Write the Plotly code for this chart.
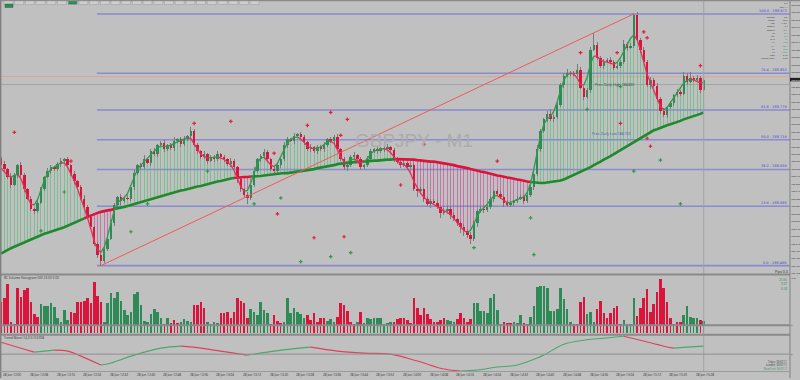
import plotly.graph_objects as go

# ---------------- DATA ----------------
OPEN0 = 188.680
CLOSE = [
188.670,188.660,188.644,188.628,188.648,188.668,188.648,188.620,188.600,188.580,
188.576,188.592,188.620,188.644,188.656,188.664,188.660,188.670,188.676,188.680,
188.668,188.650,188.636,188.624,188.600,188.584,188.564,188.544,188.510,188.488,
188.476,188.500,188.520,188.552,188.588,188.604,188.596,188.602,188.600,188.624,
188.652,188.668,188.664,188.680,188.672,188.696,188.690,188.708,188.712,188.700,
188.708,188.702,188.716,188.720,188.710,188.720,188.726,188.736,188.708,188.696,
188.684,188.690,188.676,188.684,188.680,188.690,188.684,188.680,188.670,188.676,
188.664,188.640,188.620,188.608,188.602,188.628,188.656,188.680,188.686,188.694,
188.680,188.660,188.656,188.668,188.680,188.708,188.720,188.716,188.726,188.730,
188.724,188.714,188.700,188.704,188.696,188.704,188.700,188.708,188.720,188.716,
188.724,188.700,188.680,188.664,188.668,188.684,188.688,188.680,188.664,188.668,
188.680,188.696,188.700,188.696,188.702,188.700,188.704,188.698,188.680,188.674,
188.668,188.672,188.664,188.668,188.620,188.616,188.620,188.600,188.590,188.596,
188.592,188.584,188.572,188.576,188.580,188.568,188.560,188.552,188.544,188.536,
188.528,188.520,188.552,188.576,188.580,188.578,188.584,188.600,188.616,188.610,
188.604,188.592,188.588,188.592,188.596,188.600,188.604,188.596,188.608,188.624,
188.650,188.700,188.736,188.760,188.770,188.760,188.764,188.788,188.830,188.848,
188.854,188.852,188.852,188.860,188.824,188.804,188.820,188.900,188.910,188.884,
188.868,188.876,188.880,188.876,188.864,188.868,188.876,188.912,188.904,188.908,
188.970,188.920,188.900,188.876,188.830,188.840,188.828,188.800,188.776,188.768,
188.784,188.792,188.808,188.816,188.812,188.848,188.836,188.844,188.840,188.844,
188.820,188.840]

# wick extensions in thousandths of a yen
UP_WICK = [
4,6,3,8,5,2,6,4,3,5,2,7,4,3,6,5,2,4,6,3,
5,3,6,2,4,7,3,5,2,4,6,3,5,8,4,2,6,3,5,4,
6,3,4,8,2,5,7,3,4,6,2,5,8,3,4,6,3,8,5,4,
3,6,2,5,4,7,3,5,2,6,4,3,5,2,6,4,8,3,5,6,
4,2,6,3,5,7,4,3,6,2,5,4,3,6,2,5,4,7,3,5,
4,6,2,5,3,4,7,3,5,2,6,4,3,5,2,4,6,3,5,4,
3,6,2,5,4,3,5,2,6,4,3,5,2,6,4,3,5,2,4,6,
3,5,4,2,6,4,3,5,2,4,6,3,5,4,2,6,4,3,5,6,
4,8,5,3,6,10,4,7,3,6,8,4,5,12,6,4,3,5,24,6,
4,6,3,5,4,6,3,8,4,5,4,6,3,5,4,6,3,5,4,6,
3,5,4,6,3,8,5,12,4,6,3,4]
DN_WICK = [
3,5,4,6,2,5,4,7,3,5,6,4,3,5,2,6,4,3,5,4,
6,3,5,4,2,6,3,5,4,6,10,4,5,3,6,4,8,5,3,4,
5,3,6,4,2,5,3,6,4,5,3,4,6,3,5,4,3,5,4,6,
4,3,6,2,5,4,3,6,4,5,3,8,6,4,12,5,3,4,6,3,
5,4,6,3,5,4,6,2,5,4,3,6,4,5,3,6,4,5,3,4,
6,4,3,5,8,4,6,3,5,4,3,5,4,6,3,5,4,3,6,4,
5,3,6,4,5,12,4,6,5,8,4,5,10,4,6,8,5,6,12,10,
6,10,5,8,4,6,5,4,6,3,5,8,4,5,6,4,3,6,5,4,
6,4,5,3,6,4,5,3,4,6,3,5,4,6,3,5,4,6,3,5,
4,6,3,5,4,3,5,4,6,3,5,4,6,3,5,8,4,5,6,4,
5,4,6,3,5,4,6,3,5,4,6,5]

SLOW_MA = [
188.490,188.494,188.498,188.501,188.504,188.507,188.510,188.513,188.516,188.519,
188.522,188.525,188.528,188.530,188.532,188.534,188.536,188.538,188.540,188.543,
188.546,188.549,188.552,188.555,188.558,188.561,188.564,188.567,188.570,188.572,
188.574,188.576,188.577,188.578,188.580,188.581,188.582,188.584,188.586,188.588,
188.590,188.592,188.594,188.596,188.598,188.600,188.602,188.604,188.606,188.608,
188.610,188.612,188.613,188.615,188.617,188.618,188.620,188.622,188.623,188.625,
188.626,188.628,188.630,188.631,188.633,188.635,188.636,188.638,188.639,188.641,
188.642,188.643,188.643,188.644,188.644,188.645,188.645,188.646,188.646,188.647,
188.648,188.649,188.650,188.650,188.651,188.652,188.652,188.653,188.654,188.655,
188.656,188.656,188.658,188.659,188.660,188.662,188.663,188.664,188.666,188.667,
188.668,188.670,188.671,188.672,188.672,188.673,188.674,188.674,188.675,188.675,
188.676,188.676,188.677,188.677,188.678,188.678,188.679,188.679,188.680,188.680,
188.680,188.680,188.680,188.679,188.679,188.678,188.677,188.677,188.676,188.675,
188.675,188.674,188.673,188.672,188.670,188.669,188.668,188.666,188.665,188.663,
188.662,188.660,188.658,188.657,188.655,188.654,188.652,188.650,188.649,188.647,
188.646,188.644,188.643,188.642,188.640,188.639,188.638,188.636,188.635,188.634,
188.633,188.632,188.632,188.632,188.633,188.633,188.634,188.635,188.637,188.639,
188.642,188.645,188.648,188.651,188.654,188.658,188.661,188.664,188.668,188.671,
188.675,188.679,188.682,188.686,188.690,188.694,188.698,188.702,188.706,188.710,
188.714,188.718,188.722,188.726,188.730,188.734,188.738,188.740,188.743,188.745,
188.748,188.750,188.752,188.755,188.757,188.760,188.762,188.764,188.767,188.769,
188.771,188.774]

# signed histogram (positive = bullish / green, negative = bearish / red)
HIST = [
-23,-27,-42,-3,-1,-37,-28,-35,-37,-23,-11,-8,
21,19,19,22,18,7,3,15,5,
-13,-12,-23,-23,-24,-27,-22,-44,-29,-23,
3,22,32,27,33,24,15,10,13,31,33,20,4,3,11,16,13,7,
-1,7,-2,-5,-2,3,6,4,3,
-20,-20,-23,-17,
3,1,3,2,
-12,-12,-13,-7,-13,-27,-24,-22,-7,
16,13,10,23,15,12,
-1,-10,-4,-2,
3,27,12,17,13,11,7,
-10,-5,-12,-3,-7,-7,
4,6,3,
-8,-22,-20,-14,-3,-1,
3,-13,2,7,6,7,7,7,1,2,3,
-3,-6,-7,-7,-5,-2,-27,-17,-10,-17,-11,-6,-3,-3,-5,-7,
5,4,3,
-6,-12,-7,-3,-6,
22,22,14,14,12,27,31,15,1,
-3,-2,-2,
3,2,10,
-2,-1,
8,19,38,39,39,37,14,14,16,37,26,16,3,
-1,-1,-23,-28,
11,13,3,
-16,-24,-12,-7,-12,-17,-19,-1,
5,1,1,27,
-9,-17,-27,-36,-13,-21,-33,-47,-37,-23,-7,
1,-3,-3,10,19,8,7,7,-5,4]

OSC_IDX = [0,6,10,16,20,24,30,32,40,48,54,60,64,70,74,80,87,93,101,109,
           117,125,133,138,143,149,155,161,163,169,175,181,187,192,199,202,206,211]
OSC_VAL = [60,30,10,20,15,-10,-55,-50,-5,30,40,30,20,5,-5,10,25,35,15,5,
           0,-35,-75,-85,-80,-65,-55,-20,-5,50,70,80,90,70,40,30,35,40]

RED_SIG_IDX = [4,21,58,69,92,99,104,82,102,127,149,120,83,94,103,194,195,193,194,174,185,186,210]
RED_SIG_PRICE = [188.734,188.676,188.752,188.756,188.748,188.774,188.760,188.692,188.728,188.710,
                 188.676,188.628,188.570,188.522,188.524,188.722,188.706,188.936,188.924,188.894,
                 188.894,188.752,188.868]
GREEN_SIG_IDX = [19,12,39,44,62,76,84,90,99,105,142,159,160,190,198,204,176,186]
GREEN_SIG_PRICE = [188.614,188.536,188.534,188.590,188.656,188.590,188.602,188.474,188.484,188.492,
                   188.502,188.562,188.488,188.656,188.678,188.590,188.780,188.826]

FIB_LOW, FIB_LOW_IDX = 188.466, 30
FIB_HIGH, FIB_HIGH_IDX = 188.972, 190
FIB_RATIOS = [0.0, 23.6, 38.2, 50.0, 61.8, 76.4, 100.0]
ASK_PRICE = 188.846
LINE_PRICE = 188.830
PREV_HIGH_TEXT = "Prev. Daily High 188.830"
PREV_LOW_TEXT = "Prev. Daily Low 188.720"

TIME_LABELS = ["28 Jun 12:00", "28 Jun 12:08", "28 Jun 12:16", "28 Jun 12:24", "28 Jun 12:32",
               "28 Jun 12:40", "28 Jun 12:48", "28 Jun 12:56", "28 Jun 13:04", "28 Jun 13:12",
               "28 Jun 13:20", "28 Jun 13:28", "28 Jun 13:36", "28 Jun 13:44", "28 Jun 13:52",
               "28 Jun 14:00", "28 Jun 14:08", "28 Jun 14:16", "28 Jun 14:24", "28 Jun 14:32",
               "28 Jun 14:40", "28 Jun 14:48", "28 Jun 14:56", "28 Jun 15:04", "28 Jun 15:12",
               "28 Jun 15:20", "28 Jun 15:28"]

INFO_TOP = ["2.3", "Spr 1.1"]
INFO_ROWS = [("Spread", "2.8"), ("Range", "50.6"), ("ADR", "112.5"), ("Swap L", "-3.1"),
             ("Swap S", "-9.4"), ("M1", "0.9"), ("M5", "3.2"), ("M15", "7.1"), ("H1", "15.8"),
             ("H4", "28.4"), ("D1", "50.6"), ("W1", "140.2"), ("Lots", "0.10"),
             ("Candle Time", "0:52")]

N = len(CLOSE)
GREEN = "#2e8b57"
RED = "#dc143c"
BG = "#c0c0c0"

# ---------------- derived ----------------
X = list(range(N))
OPEN = [OPEN0] + CLOSE[:-1]
HIGH = [max(o, c) + u / 1000 for o, c, u in zip(OPEN, CLOSE, UP_WICK)]
LOW = [min(o, c) - d / 1000 for o, c, d in zip(OPEN, CLOSE, DN_WICK)]

W = [1, 2, 3, 2, 1]
FAST = []
for i in range(N):
    s = ws = 0
    for k, w in zip(range(-2, 3), W):
        j = i + k
        if 0 <= j < N:
            s += w * CLOSE[j]
            ws += w
    FAST.append(s / ws)


def runs(xs, ys, flags):
    segs, cur = [], None
    for i in range(1, len(xs)):
        f = flags[i]
        if cur is None or cur[0] != f:
            cur = [f, [xs[i - 1]], [ys[i - 1]]]
            segs.append(cur)
        cur[1].append(xs[i])
        cur[2].append(ys[i])
    return segs


fig = go.Figure()

# fill between fast and slow
for col, cond in (("rgba(70,190,110,0.55)", True), ("rgba(200,40,140,0.5)", False)):
    xs = [i for i in X if (FAST[i] >= SLOW_MA[i]) == cond]
    fig.add_trace(go.Bar(x=xs, base=[SLOW_MA[i] for i in xs],
                         y=[FAST[i] - SLOW_MA[i] for i in xs], width=0.3,
                         marker=dict(color=col, line=dict(width=0)),
                         xaxis="x", yaxis="y", hoverinfo="skip", showlegend=False))

# wicks
fig.add_trace(go.Bar(x=X, base=LOW, y=[h - l for h, l in zip(HIGH, LOW)], width=0.3,
                     marker=dict(color="#7a7a7a", line=dict(width=0)),
                     xaxis="x", yaxis="y", hoverinfo="skip", showlegend=False))
# bodies
for col, bull in ((GREEN, True), (RED, False)):
    xs = [i for i in X if (CLOSE[i] >= OPEN[i]) == bull]
    fig.add_trace(go.Bar(x=xs, base=[min(OPEN[i], CLOSE[i]) for i in xs],
                         y=[max(abs(CLOSE[i] - OPEN[i]), 0.0012) for i in xs], width=0.74,
                         marker=dict(color=col, line=dict(width=0)),
                         xaxis="x", yaxis="y", hoverinfo="skip", showlegend=False))

# slow MA colored by fast vs slow
for f, xs, ys in runs(X, SLOW_MA, [FAST[i] >= SLOW_MA[i] for i in X]):
    fig.add_trace(go.Scatter(x=xs, y=ys, mode="lines",
                             line=dict(color="#1f8a2c" if f else RED, width=2.6),
                             xaxis="x", yaxis="y", hoverinfo="skip", showlegend=False))
# fast MA colored by slope
for f, xs, ys in runs(X, FAST, [i > 0 and FAST[i] >= FAST[i - 1] for i in X]):
    fig.add_trace(go.Scatter(x=xs, y=ys, mode="lines",
                             line=dict(color="#2e9a4a" if f else "#e0305a", width=1.3),
                             xaxis="x", yaxis="y", hoverinfo="skip", showlegend=False))

# trend line
fig.add_trace(go.Scatter(x=[FIB_LOW_IDX, FIB_HIGH_IDX], y=[FIB_LOW, FIB_HIGH], mode="lines",
                         line=dict(color="#f05a5a", width=1), xaxis="x", yaxis="y",
                         hoverinfo="skip", showlegend=False))

# signals
fig.add_trace(go.Scatter(x=RED_SIG_IDX, y=RED_SIG_PRICE, mode="markers",
                         marker=dict(symbol="cross", size=3, color="#e0203c", line=dict(width=0)),
                         xaxis="x", yaxis="y", hoverinfo="skip", showlegend=False))
fig.add_trace(go.Scatter(x=GREEN_SIG_IDX, y=GREEN_SIG_PRICE, mode="markers",
                         marker=dict(symbol="cross", size=3, color="#2e9a4a", line=dict(width=0)),
                         xaxis="x", yaxis="y", hoverinfo="skip", showlegend=False))

# histogram panel
for col, pos in ((GREEN, True), (RED, False)):
    xs = [i for i in X if (HIST[i] > 0) == pos]
    fig.add_trace(go.Bar(x=xs, y=[abs(HIST[i]) for i in xs], width=0.78,
                         marker=dict(color=col, line=dict(width=0)),
                         xaxis="x2", yaxis="y2", hoverinfo="skip", showlegend=False))
for col, pos in ((GREEN, True), (RED, False)):
    xs = [i for i in X if (HIST[i] > 0) == pos]
    fig.add_trace(go.Bar(x=xs, base=[-0.9] * len(xs), y=[-7.3] * len(xs), width=0.4,
                         marker=dict(color=col, line=dict(width=0)),
                         xaxis="x2", yaxis="y2", hoverinfo="skip", showlegend=False))

# oscillator
OSC_FLAGS = [i > 0 and OSC_VAL[i] >= OSC_VAL[i - 1] for i in range(len(OSC_VAL))]
for f, xs, ys in runs(OSC_IDX, OSC_VAL, OSC_FLAGS):
    fig.add_trace(go.Scatter(x=xs, y=ys, mode="lines", line_shape="spline",
                             line=dict(color="#4aa86a" if f else "#e04060", width=1.1),
                             xaxis="x3", yaxis="y3", hoverinfo="skip", showlegend=False))

# ---------------- layout ----------------
W_PX, H_PX = 800, 380
XR = 790 / W_PX


def py(p):
    return 1 - p / H_PX


def pxx(p):
    return p / W_PX


XRANGE = [-0.3, 236.9]
PR = [188.450, 189.000]

shapes = []
ann = []

# fib levels
for r in FIB_RATIOS:
    lvl = FIB_LOW + (FIB_HIGH - FIB_LOW) * r / 100
    shapes.append(dict(type="line", xref="x", yref="y", x0=FIB_LOW_IDX - 1.2, x1=XRANGE[1],
                       y0=lvl, y1=lvl, line=dict(color="#8a8ad2", width=1.6), layer="below"))
    ann.append(dict(xref="paper", yref="y", x=XR - 0.002, y=lvl, xanchor="right", yanchor="bottom",
                    text=f"{r:.1f} - {lvl:.3f}", showarrow=False, yshift=0, borderpad=0,
                    font=dict(size=3.5, color="#4a4ac8", family="DejaVu Sans")))

# ask / price lines
shapes.append(dict(type="line", xref="paper", yref="y", x0=0, x1=XR, y0=ASK_PRICE, y1=ASK_PRICE,
                   line=dict(color="#d8a890", width=1), layer="below"))
shapes.append(dict(type="line", xref="paper", yref="y", x0=0, x1=XR, y0=LINE_PRICE, y1=LINE_PRICE,
                   line=dict(color="#a4a4a4", width=1), layer="below"))
# vertical shift separator
shapes.append(dict(type="line", xref="x", yref="paper", x0=N - 1, x1=N - 1, y0=py(373), y1=1,
                   line=dict(color="#a2a2a2", width=1)))
# panel separators / borders
for yy, wd in ((276, 2), (336.5, 2), (327, 2)):
    shapes.append(dict(type="line", xref="paper", yref="paper", x0=0, x1=XR, y0=py(yy), y1=py(yy),
                       line=dict(color="#8a8a8a", width=wd)))
shapes.append(dict(type="line", xref="paper", yref="paper", x0=0, x1=XR, y0=py(356), y1=py(356),
                   line=dict(color="#8e8e8e", width=1)))
shapes.append(dict(type="line", xref="paper", yref="paper", x0=XR, x1=XR, y0=0, y1=1,
                   line=dict(color="#808080", width=1)))
shapes.append(dict(type="line", xref="paper", yref="paper", x0=0.0008, x1=0.0008, y0=0, y1=1,
                   line=dict(color="#808080", width=1.5)))
shapes.append(dict(type="line", xref="paper", yref="paper", x0=0, x1=1, y0=py(0.5), y1=py(0.5),
                   line=dict(color="#8a8a8a", width=1.5)))
shapes.append(dict(type="line", xref="paper", yref="paper", x0=0, x1=XR, y0=py(373.5), y1=py(373.5),
                   line=dict(color="#9a9a9a", width=1)))

# toolbar tabs
tab_x = [3 + 10.7 * k for k in range(24)]
for k, tx in enumerate(tab_x):
    green = k == 6
    shapes.append(dict(type="rect", xref="paper", yref="paper", x0=pxx(tx + 1), x1=pxx(tx + 10),
                       y0=py(4.5), y1=py(1), fillcolor="#2e8b57" if green else "#cfcfcf",
                       line=dict(color="#9a9a9a", width=0.5)))
shapes.append(dict(type="rect", xref="paper", yref="paper", x0=pxx(5), x1=pxx(13), y0=py(7.5), y1=py(4),
                   fillcolor="#2e8b57", line=dict(color="#1f6b3f", width=0.5)))

# price tag
shapes.append(dict(type="rect", xref="paper", yref="y", x0=XR, x1=1,
                   y0=CLOSE[-1] - 0.0035, y1=CLOSE[-1] + 0.0035, fillcolor="#202020", line=dict(width=0)))
ann.append(dict(xref="paper", yref="y", x=XR + 0.0005, y=CLOSE[-1], xanchor="left", yanchor="middle",
                text=f"{CLOSE[-1]:.3f}", showarrow=False, borderpad=0,
                font=dict(size=2.4, color="white")))

# watermark
ann.append(dict(xref="x", yref="y", x=124, y=188.718, text="GBPJPY - M1", showarrow=False,
                font=dict(size=19, color="#acacac", family="Liberation Sans")))

ann.append(dict(xref="x", yref="y", x=178, y=LINE_PRICE, xanchor="left", yanchor="middle",
                text=PREV_HIGH_TEXT, showarrow=False, borderpad=0, font=dict(size=3.5, color="#404040")))
ann.append(dict(xref="x", yref="y", x=177, y=188.732, xanchor="left", yanchor="middle",
                text=PREV_LOW_TEXT, showarrow=False, borderpad=0, font=dict(size=3.5, color="#4a4ac8")))

# info block
for k, t in enumerate(INFO_TOP):
    ann.append(dict(xref="paper", yref="paper", x=pxx(789), y=py(3.5 + 3.2 * k), xanchor="right",
                    yanchor="middle", text=t, showarrow=False, borderpad=0,
                    font=dict(size=2.4, color="#303030")))
for k, (lab, val) in enumerate(INFO_ROWS):
    yy = 17.5 + k * 3.2
    ann.append(dict(xref="paper", yref="paper", x=pxx(776), y=py(yy), xanchor="right", yanchor="middle",
                    text=lab, showarrow=False, borderpad=0, font=dict(size=2.3, color="#303030")))
    ann.append(dict(xref="paper", yref="paper", x=pxx(789), y=py(yy), xanchor="right", yanchor="middle",
                    text=val, showarrow=False, borderpad=0,
                    font=dict(size=2.3, color="#2e8b57" if 5 <= k <= 11 else "#303030")))

# panel labels
ann.append(dict(xref="paper", yref="paper", x=pxx(3), y=py(279), xanchor="left", yanchor="middle",
                text="RC Volume Histogram (50) 23.00 0.00", showarrow=False, borderpad=0,
                font=dict(size=3.2, color="#303030")))
ann.append(dict(xref="paper", yref="paper", x=pxx(3), y=py(339.5), xanchor="left", yanchor="middle",
                text="Trend Wave (14,0.5) 0.0358", showarrow=False, borderpad=0,
                font=dict(size=3.2, color="#303030")))
ann.append(dict(xref="paper", yref="paper", x=pxx(789), y=py(273), xanchor="right", yanchor="middle",
                text="Pips 0.3", showarrow=False, borderpad=0, font=dict(size=3.5, color="#202020")))
for k, t in enumerate(["23.50", "9.97", "6.58"]):
    ann.append(dict(xref="paper", yref="paper", x=pxx(788), y=py(281 + 5 * k), xanchor="right",
                    yanchor="middle", text=t, showarrow=False, borderpad=0,
                    font=dict(size=3, color="#2e8b57")))
for k, t in enumerate(["Tokyo  00:07:11", "London  00:07:11", "New York  00:07:11"]):
    ann.append(dict(xref="paper", yref="paper", x=pxx(788), y=py(364 + 3.4 * k), xanchor="right",
                    yanchor="middle", text=t, showarrow=False, borderpad=0,
                    font=dict(size=2.6, color="#2e8b57" if k == 2 else "#303030")))

# time labels
for k, t in enumerate(TIME_LABELS):
    ann.append(dict(xref="x3", yref="paper", x=0.4 + 8 * k, y=py(377), xanchor="left", yanchor="middle",
                    text=t, showarrow=False, borderpad=0, font=dict(size=3.2, color="#303030")))

axis_common = dict(showgrid=False, zeroline=False, showline=False, fixedrange=True)
fig.update_layout(
    width=W_PX, height=H_PX, margin=dict(l=0, r=0, t=0, b=0),
    paper_bgcolor=BG, plot_bgcolor=BG, barmode="overlay", bargap=0,
    showlegend=False, hovermode=False,
    xaxis=dict(domain=[0, XR], range=XRANGE, showticklabels=False, anchor="y", **axis_common),
    yaxis=dict(domain=[py(275), 1], range=PR, side="right", anchor="x", tick0=188.450, dtick=0.015,
               tickformat=".3f", tickfont=dict(size=2.4, color="#202020"), ticks="", **axis_common),
    xaxis2=dict(domain=[0, XR], range=XRANGE, showticklabels=False, anchor="y2", matches="x",
                **axis_common),
    yaxis2=dict(domain=[py(336), py(277)], range=[-9, 50], side="right", anchor="x2",
                tickvals=[0, 47], ticktext=["0", "47.0"], tickfont=dict(size=2.4, color="#202020"),
                ticks="", **axis_common),
    xaxis3=dict(domain=[0, XR], range=XRANGE, showticklabels=False, anchor="y3", matches="x",
                **axis_common),
    yaxis3=dict(domain=[py(373), py(337)], range=[-85, 95], side="right", anchor="x3",
                tickvals=[0], ticktext=["0"], tickfont=dict(size=2.4, color="#202020"), ticks="",
                **axis_common),
    shapes=shapes, annotations=ann,
)

fig.write_html("out.html", config={"displayModeBar": False, "staticPlot": True})
with open("out.html", "r", encoding="utf-8") as fh:
    html = fh.read()
html = html.replace("<head>", "<head><style>html,body{margin:0;padding:0;overflow:hidden;}</style>", 1)
with open("out.html", "w", encoding="utf-8") as fh:
    fh.write(html)
